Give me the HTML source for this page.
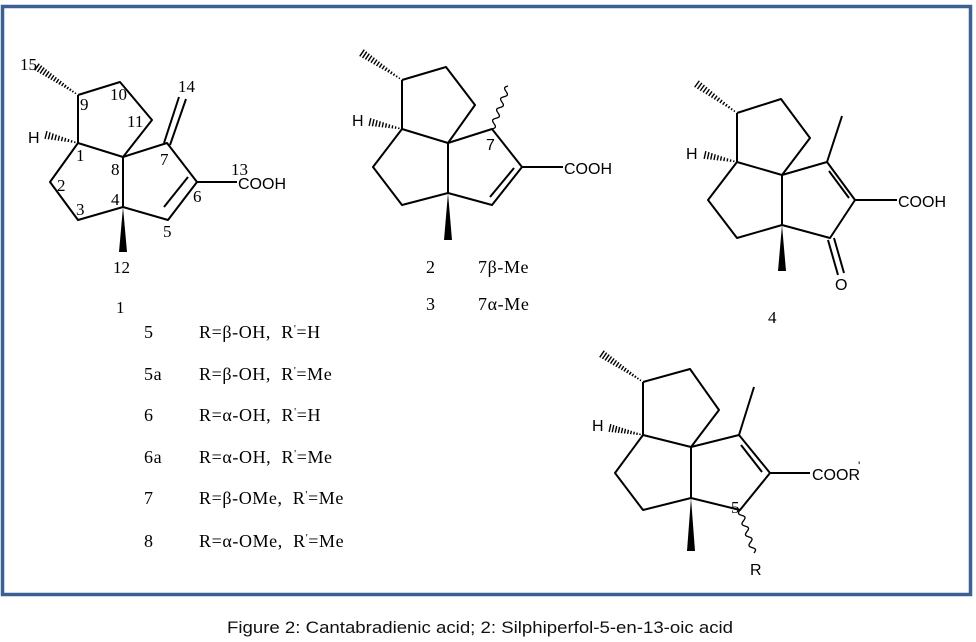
<!DOCTYPE html>
<html><head><meta charset="utf-8"><style>
html,body{margin:0;padding:0;background:#fff;}
svg{display:block}
.s{font-family:"Liberation Serif",serif;font-size:17px;fill:#000}
.t{font-family:"Liberation Serif",serif;font-size:18px;fill:#000;letter-spacing:0.6px}
.a{font-family:"Liberation Sans",sans-serif;font-size:16px;fill:#000}
.cap{font-family:"Liberation Sans",sans-serif;font-size:17px;fill:#111}
</style></head><body>
<svg id="g" width="976" height="642" viewBox="0 0 976 642" xmlns="http://www.w3.org/2000/svg">
<rect x="2.5" y="6.5" width="968" height="588" fill="none" stroke="#3a6190" stroke-width="3.5"/>
<g stroke="#000" stroke-width="2" fill="none" stroke-linejoin="round">
<polyline points="78,95 120,82 152,120 123,157 78,143 78,95"/>
<polyline points="78,143 50,182 78,220 123,207 123,157 167,143 197,182 168,220 123,207"/>
<line x1="164" y1="207" x2="188" y2="177"/>
<line x1="197" y1="182" x2="237" y2="182"/>
<line x1="164" y1="143" x2="179" y2="97"/><line x1="170" y1="145" x2="186" y2="99"/>
<polyline points="402,80 446,67 475,105 448,143 402,129 402,80"/>
<polyline points="402,129 373,167 402,205 448,193 448,143 492,129 522,167 492,205 448,193"/>
<line x1="490" y1="197" x2="514" y2="168"/>
<line x1="522" y1="167" x2="563" y2="167"/>
<polyline points="737,113 781,99 810,138 782,175 737,162 737,113"/>
<polyline points="737,162 708,200 737,238 782,225 782,175 827,162 855,200 830,238 782,225"/>
<line x1="829" y1="171" x2="849" y2="198"/>
<line x1="827" y1="162" x2="842" y2="116"/>
<line x1="855" y1="200" x2="897" y2="200"/>
<line x1="828" y1="240" x2="838" y2="275"/><line x1="834" y1="238" x2="844" y2="273"/>
<polyline points="643,382 690,369 719,410 691,447 643,435 643,382"/>
<polyline points="643,435 615,473 643,510 691,498 691,447 739,435 770,473 740,510 691,498"/>
<line x1="741" y1="445" x2="762" y2="472"/>
<line x1="739" y1="435" x2="754" y2="387"/>
<line x1="770" y1="473" x2="810" y2="473"/>
</g>
<g fill="#000">
<polygon points="123,207 119,252 127,252"/>
<polygon points="448,193 444,240 452,240"/>
<polygon points="782,225 778,271 786,271"/>
<polygon points="691,498 687,551 695,551"/>
</g>
<g id="h" stroke="#000" stroke-width="1.4"></g>
<g id="w" stroke="#000" stroke-width="1.3" fill="none"></g>
<text class="s" x="20" y="70">15</text>
<text class="s" x="80" y="110">9</text>
<text class="s" x="110" y="100">10</text>
<text class="s" x="127" y="127">11</text>
<text class="a" x="28" y="143">H</text>
<text class="s" x="76" y="161">1</text>
<text class="s" x="111" y="175">8</text>
<text class="s" x="160" y="165">7</text>
<text class="s" x="178" y="92">14</text>
<text class="s" x="231" y="175">13</text>
<text class="a" x="238" y="189">COOH</text>
<text class="s" x="193" y="202">6</text>
<text class="s" x="57" y="191">2</text>
<text class="s" x="76" y="215">3</text>
<text class="s" x="111" y="205">4</text>
<text class="s" x="163" y="237">5</text>
<text class="s" x="113" y="273">12</text>
<text class="s" x="116" y="313">1</text>
<text class="a" x="352" y="126">H</text>
<text class="a" x="486" y="150">7</text>
<text class="a" x="564" y="174">COOH</text>
<text class="t" x="426" y="273">2</text>
<text class="t" x="478" y="273">7β-Me</text>
<text class="t" x="426" y="310">3</text>
<text class="t" x="478" y="310">7α-Me</text>
<text class="a" x="686" y="159">H</text>
<text class="a" x="898" y="207">COOH</text>
<text class="a" x="835" y="290">O</text>
<text class="s" x="768" y="323">4</text>
<text class="a" x="592" y="431">H</text>
<text class="a" x="812" y="480">COOR</text><text class="a" x="858" y="470" style="font-size:12px">'</text>
<text class="s" x="731" y="513">5</text>
<text class="a" x="750" y="575">R</text>
<g class="t">
<text x="144" y="338">5</text><text x="199" y="338">R=β-OH,&#160;&#160;R<tspan dy="-6" font-size="11">'</tspan><tspan dy="6">=H</tspan></text>
<text x="144" y="380">5a</text><text x="199" y="380">R=β-OH,&#160;&#160;R<tspan dy="-6" font-size="11">'</tspan><tspan dy="6">=Me</tspan></text>
<text x="144" y="421">6</text><text x="199" y="421">R=α-OH,&#160;&#160;R<tspan dy="-6" font-size="11">'</tspan><tspan dy="6">=H</tspan></text>
<text x="144" y="463">6a</text><text x="199" y="463">R=α-OH,&#160;&#160;R<tspan dy="-6" font-size="11">'</tspan><tspan dy="6">=Me</tspan></text>
<text x="144" y="504">7</text><text x="199" y="504">R=β-OMe,&#160;&#160;R<tspan dy="-6" font-size="11">'</tspan><tspan dy="6">=Me</tspan></text>
<text x="144" y="547">8</text><text x="199" y="547">R=α-OMe,&#160;&#160;R<tspan dy="-6" font-size="11">'</tspan><tspan dy="6">=Me</tspan></text>
</g>
<text class="cap" x="480" y="633" text-anchor="middle" textLength="506" lengthAdjust="spacingAndGlyphs">Figure 2: Cantabradienic acid; 2: Silphiperfol-5-en-13-oic acid</text>
</svg>
<script>
var ns="http://www.w3.org/2000/svg";
function hash(x1,y1,x2,y2){var g=document.getElementById('h');var dx=x2-x1,dy=y2-y1,L=Math.hypot(dx,dy),ux=dx/L,uy=dy/L,px=-uy,py=ux;var n=Math.round(L/3.2);
for(var i=1;i<=n;i++){var t=i/n,cx=x1+dx*t,cy=y1+dy*t,w=0.5+3.5*t;var l=document.createElementNS(ns,'line');l.setAttribute('x1',cx+px*w);l.setAttribute('y1',cy+py*w);l.setAttribute('x2',cx-px*w);l.setAttribute('y2',cy-py*w);g.appendChild(l);}}
function wavy(x1,y1,x2,y2){var g=document.getElementById('w');var dx=x2-x1,dy=y2-y1,L=Math.hypot(dx,dy),px=-dy/L,py=dx/L;var d='M'+x1+','+y1;var N=60;for(var i=1;i<=N;i++){var t=i/N,a=Math.sin(t*Math.PI*8)*2.5;d+=' L'+(x1+dx*t+px*a)+','+(y1+dy*t+py*a);}var p=document.createElementNS(ns,'path');p.setAttribute('d',d);g.appendChild(p);}
hash(78,95,37,67);hash(78,143,46,135);
hash(402,80,362,53);hash(402,129,370,122);
hash(737,113,697,84);hash(737,162,705,155);
hash(643,382,602,354);hash(643,435,610,428);
wavy(492,129,508,86);wavy(740,510,754,553);
</script>
</body></html>
